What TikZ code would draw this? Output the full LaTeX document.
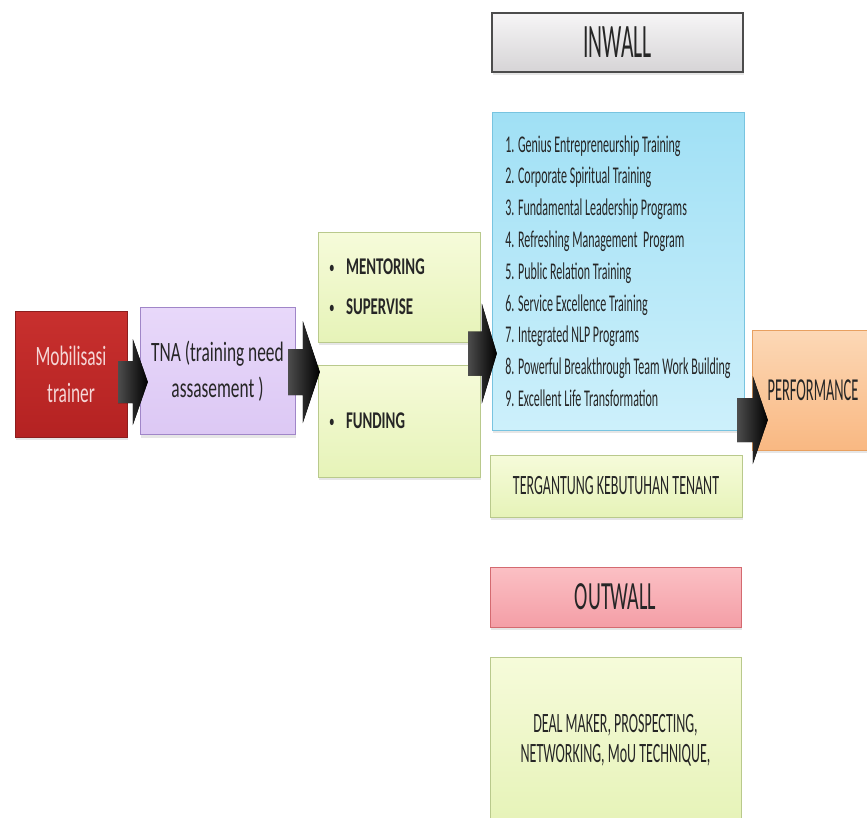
\documentclass[tikz,border=0pt]{standalone}
\usepackage{fontspec}
\setmainfont{Carlito}[FakeStretch=0.5]
\newfontfamily\wideface{Carlito}[FakeStretch=0.62]
\newfontfamily\slimface{Carlito}[FakeStretch=0.45]
\usetikzlibrary{calc,shadows}

\definecolor{redtop}{RGB}{200,48,46}
\definecolor{redbot}{RGB}{180,34,34}
\definecolor{redline}{RGB}{140,30,30}
\definecolor{redtext}{RGB}{245,215,215}
\definecolor{purptop}{RGB}{232,216,250}
\definecolor{purpbot}{RGB}{220,200,244}
\definecolor{purpline}{RGB}{160,134,200}
\definecolor{greentop}{RGB}{246,251,218}
\definecolor{greenbot}{RGB}{230,243,184}
\definecolor{greenline}{RGB}{185,201,140}
\definecolor{bluetop}{RGB}{160,224,245}
\definecolor{bluebot}{RGB}{205,240,251}
\definecolor{blueline}{RGB}{120,196,224}
\definecolor{orangetop}{RGB}{252,216,182}
\definecolor{orangebot}{RGB}{249,184,130}
\definecolor{orangeline}{RGB}{232,160,96}
\definecolor{graytop}{RGB}{246,245,246}
\definecolor{graybot}{RGB}{214,212,214}
\definecolor{pinktop}{RGB}{251,192,196}
\definecolor{pinkbot}{RGB}{244,158,166}
\definecolor{pinkline}{RGB}{212,106,112}

\tikzset{
  panel/.style={rectangle, inner sep=0pt, align=center, text=black!85,
    drop shadow={opacity=0.2, shadow xshift=1pt, shadow yshift=-3pt}},
  redbox/.style={panel, draw=redline, top color=redtop, bottom color=redbot, text=redtext},
  purplebox/.style={panel, draw=purpline, top color=purptop, bottom color=purpbot},
  greenbox/.style={panel, draw=greenline, top color=greentop, bottom color=greenbot},
  bluebox/.style={panel, draw=blueline, top color=bluetop, bottom color=bluebot},
  orangebox/.style={panel, draw=orangeline, top color=orangetop, bottom color=orangebot},
  graybox/.style={panel, draw=black!70, line width=2pt, top color=graytop, bottom color=graybot},
  pinkbox/.style={panel, draw=pinkline, top color=pinktop, bottom color=pinkbot},
  arrowfill/.style={left color=black!70, right color=black},
  bulletline/.style={font=\wideface\bfseries\fontsize{24}{40}\selectfont, text width=140pt, align=left}
}

\newcommand{\bul}{\makebox[17pt][l]{\mdseries\fontsize{18}{18}\selectfont\raisebox{1pt}{\textbullet}}}
% block arrow: start, tip, shaft half, head half, head length
\newcommand{\blockarrow}[5]{%
  \fill[arrowfill] ($(#1)+(0,-#3)$) -- ($(#2)+(-#5,-#3)$) -- ($(#2)+(-#5,-#4)$) -- (#2)
    -- ($(#2)+(-#5,#4)$) -- ($(#2)+(-#5,#3)$) -- ($(#1)+(0,#3)$) -- cycle;}

\begin{document}
\begin{tikzpicture}[x=1pt, y=-1pt]
\useasboundingbox (0,0) rectangle (867,817);

% Left chain
\node[redbox, minimum width=112pt, minimum height=126pt, font=\wideface\fontsize{28}{37}\selectfont] (mob) at (71,374) {Mobilisasi\\trainer};
\node[purplebox, minimum width=155pt, minimum height=127pt, font=\wideface\fontsize{28}{36}\selectfont] (tna) at (217.5,371) {TNA (training need\\assasement )};

% Support boxes
\node[greenbox, bulletline, minimum width=162pt, minimum height=110pt] (ment) at (399,287) {\bul MENTORING\\\bul SUPERVISE};
\node[greenbox, bulletline, minimum width=162pt, minimum height=112pt] (fund) at (399,421) {\bul FUNDING};

% Inwall column
\node[graybox, minimum width=251pt, minimum height=59pt, font=\slimface\fontsize{48}{50}\selectfont] (inwall) at (617.5,42.5) {INWALL};
\node[bluebox, minimum width=252pt, minimum height=318pt, align=left, font=\fontsize{24}{31.8}\selectfont] (prog) at (618,271) {1. Genius Entrepreneurship Training\\
2. Corporate Spiritual Training\\
3. Fundamental Leadership Programs\\
4. Refreshing Management\ \ Program\\
5. Public Relation Training\\
6. Service Excellence Training\\
7. Integrated NLP Programs\\
8. Powerful Breakthrough Team Work Building\\
9. Excellent Life Transformation};
\node[greenbox, minimum width=252pt, minimum height=62pt, font=\fontsize{28}{32}\selectfont] (tenant) at (616,486) {TERGANTUNG KEBUTUHAN TENANT};

% Outwall column
\node[pinkbox, minimum width=251pt, minimum height=60pt, font=\fontsize{40}{44}\selectfont] (outwall) at (615.5,597) {OUTWALL};
\node[greenbox, minimum width=251pt, minimum height=165pt, font=\fontsize{28}{30}\selectfont] (deal) at (615.5,740) {DEAL MAKER, PROSPECTING,\\NETWORKING, MoU TECHNIQUE,};

% Result
\node[orangebox, minimum width=122pt, minimum height=120pt, font=\slimface\fontsize{32}{38}\selectfont] (perf) at (813,390) {PERFORMANCE};

% Block arrows between the boxes
\coordinate (gap) at ($(ment.south east)!0.5!(fund.north east)$);
\coordinate (a1s) at ($(mob.east)+(-9,8)$);
\coordinate (a1t) at ($(tna.west)+(8,11)$);
\coordinate (a2s) at ($(tna.east)+(-7,1)$);
\coordinate (a2t) at ($(tna.east -| fund.west)+(2,1)$);
\coordinate (a3s) at ($(gap)+(-12,0)$);
\coordinate (a3t) at ($(gap -| prog.west)+(5,0)$);
\coordinate (a4s) at ($(prog.east |- perf.center)+(-7,30)$);
\coordinate (a4t) at ($(perf.west)+(16,30)$);
\blockarrow{a1s}{a1t}{21}{43}{15}
\blockarrow{a2s}{a2t}{23}{51}{17}
\blockarrow{a3s}{a3t}{22}{50}{15}
\blockarrow{a4s}{a4t}{22}{44}{15}

\end{tikzpicture}
\end{document}
